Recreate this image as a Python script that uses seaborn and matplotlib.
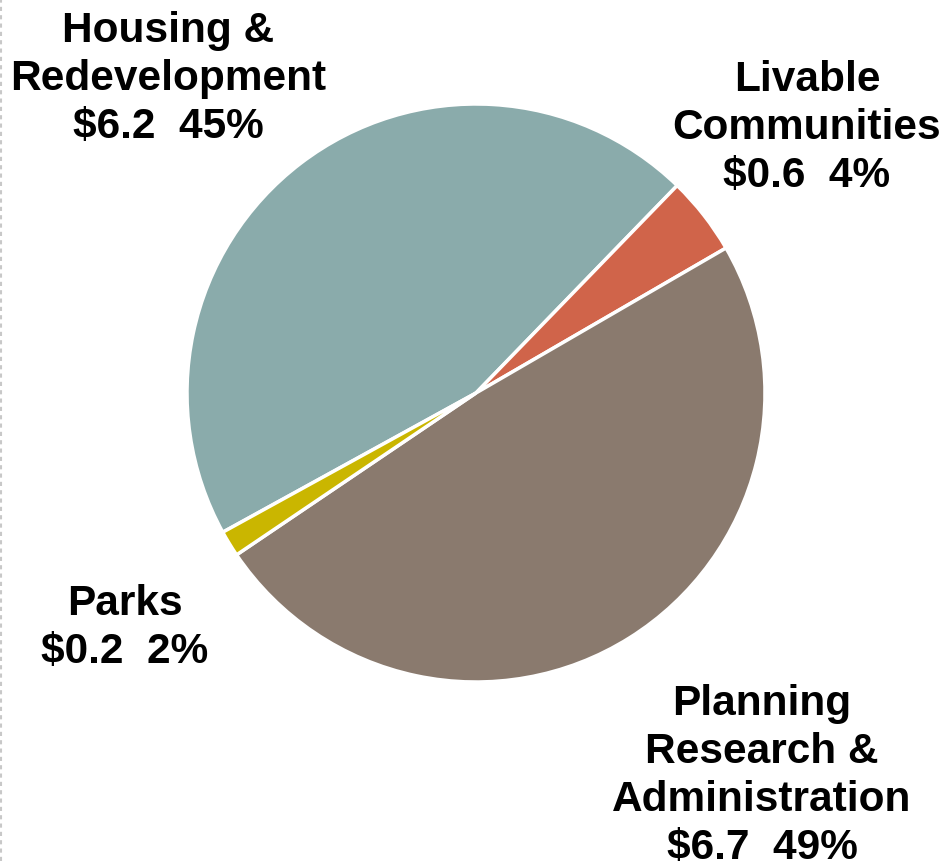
import matplotlib
matplotlib.use("Agg")
import matplotlib.pyplot as plt
import seaborn as sns
from matplotlib.lines import Line2D

sns.set_style("white")
plt.rcParams['font.family'] = ['Liberation Sans', 'DejaVu Sans']

# Data (in $ millions)
categories = ['Housing &\nRedevelopment', 'Livable\nCommunities',
              'Planning\nResearch &\nAdministration', 'Parks']
amounts = [6.2, 0.6, 6.7, 0.2]
percents = [45, 4, 49, 2]
colors = ['#8AABAB', '#D0644A', '#8A7A6E', '#CAB600']

# Label anchor positions in pixels (figure is 945 x 862)
label_pos = [(168, 862 - 79), (807, 862 - 128), (762, 862 - 776), (125, 862 - 628)]

fig = plt.figure(figsize=(9.45, 8.62), dpi=100)
ax = fig.add_axes([0, 0, 1, 1])

ax.pie(amounts, colors=colors, startangle=208.8, counterclock=False,
       center=(476, 862 - 394), radius=289,
       wedgeprops=dict(edgecolor='white', linewidth=2.5))

for cat, amt, pct, (x, y) in zip(categories, amounts, percents, label_pos):
    ax.text(x, y, f"{cat}\n\\${amt:.1f}  {pct}%", ha='center', va='center',
            fontsize=30.5, fontweight='bold', color='black', linespacing=1.25)

ax.set_xlim(0, 945)
ax.set_ylim(0, 862)
ax.set_aspect('equal')
ax.axis('off')

# faint dotted border on the left edge
fig.add_artist(Line2D([0.001, 0.001], [0, 1], transform=fig.transFigure,
                      color='#C8C8C8', linestyle=(0, (2, 2)), linewidth=1.5))

fig.savefig('out.png', dpi=100)
